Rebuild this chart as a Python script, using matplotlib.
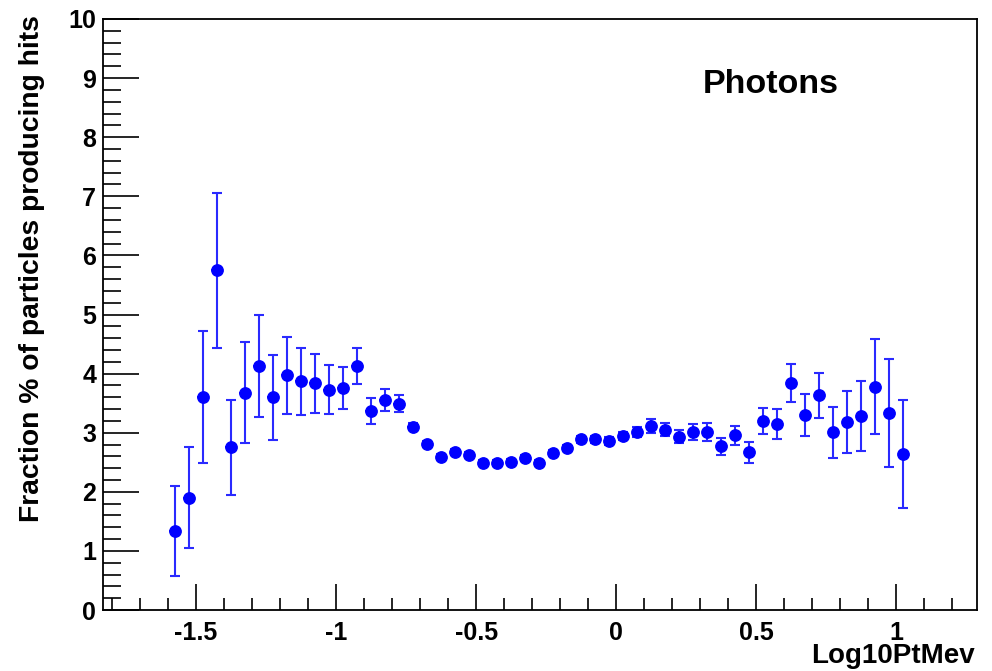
import numpy as np
import matplotlib
matplotlib.use("Agg")
import matplotlib.pyplot as plt
from matplotlib.ticker import MultipleLocator

plt.rcParams['font.family'] = ['Liberation Sans', 'DejaVu Sans']
plt.rcParams['font.weight'] = 'bold'

# bin centres in log10(pt / MeV)
log_pt = [-1.575, -1.525, -1.475, -1.425, -1.375, -1.325, -1.275, -1.225, -1.175, -1.125,
          -1.075, -1.025, -0.975, -0.925, -0.875, -0.825, -0.775, -0.725, -0.675, -0.625,
          -0.575, -0.525, -0.475, -0.425, -0.375, -0.325, -0.275, -0.225, -0.175, -0.125,
          -0.075, -0.025, 0.025, 0.075, 0.125, 0.175, 0.225, 0.275, 0.325, 0.375,
          0.425, 0.475, 0.525, 0.575, 0.625, 0.675, 0.725, 0.775, 0.825, 0.875,
          0.925, 0.975, 1.025]
# fraction (%) of photons producing hits
frac = [1.34, 1.90, 3.60, 5.75, 2.75, 3.68, 4.13, 3.60, 3.97, 3.87,
        3.84, 3.73, 3.76, 4.13, 3.36, 3.55, 3.49, 3.10, 2.81, 2.59,
        2.67, 2.62, 2.49, 2.49, 2.51, 2.57, 2.49, 2.65, 2.74, 2.89,
        2.89, 2.86, 2.94, 3.01, 3.12, 3.05, 2.93, 3.01, 3.01, 2.77,
        2.96, 2.67, 3.20, 3.15, 3.84, 3.30, 3.63, 3.01, 3.18, 3.28,
        3.78, 3.33, 2.64]
frac_err = [0.76, 0.85, 1.12, 1.31, 0.81, 0.85, 0.86, 0.72, 0.65, 0.57,
            0.50, 0.42, 0.36, 0.30, 0.22, 0.19, 0.14, 0.06, 0.05, 0.05,
            0.05, 0.05, 0.05, 0.05, 0.05, 0.05, 0.05, 0.05, 0.05, 0.06,
            0.06, 0.06, 0.07, 0.08, 0.12, 0.11, 0.11, 0.13, 0.15, 0.14,
            0.16, 0.18, 0.22, 0.25, 0.32, 0.35, 0.38, 0.43, 0.53, 0.59,
            0.80, 0.91, 0.92]
half_bin = 0.02

fig = plt.figure(figsize=(9.92, 6.71), dpi=100)
ax = fig.add_axes([103/992, 1 - 610/671, 874/992, 591/671])

# error bars first, markers on top (ROOT E1 style)
ax.errorbar(log_pt, frac, yerr=frac_err, fmt='none', ecolor='#2a2aff',
            elinewidth=1.5, capsize=3.5, capthick=1.5, zorder=2)
ax.errorbar(log_pt, frac, xerr=half_bin, fmt='none', ecolor='#2a2aff',
            elinewidth=1.5, capsize=0, zorder=2)
ax.plot(log_pt, frac, 'o', color='#0000ff', markersize=8.2, zorder=3)

ax.set_xlim(-1.832, 1.288)
ax.set_ylim(0, 10)

ax.xaxis.set_major_locator(MultipleLocator(0.5))
ax.xaxis.set_minor_locator(MultipleLocator(0.1))
ax.yaxis.set_major_locator(MultipleLocator(1))
ax.yaxis.set_minor_locator(MultipleLocator(0.2))
ax.xaxis.set_major_formatter(plt.FuncFormatter(lambda v, p: '%g' % round(v, 2)))

ax.tick_params(axis='x', which='major', direction='in', length=19, width=1.2,
               labelsize=18, pad=8, top=False)
ax.tick_params(axis='x', which='minor', direction='in', length=9, width=1.2, top=False)
ax.tick_params(axis='y', which='major', direction='in', length=26, width=1.2,
               labelsize=18, pad=5, right=False)
ax.tick_params(axis='y', which='minor', direction='in', length=13, width=1.2, right=False)
for lab in ax.get_xticklabels() + ax.get_yticklabels():
    lab.set_fontweight('bold')
for sp in ax.spines.values():
    sp.set_linewidth(1.3)

fig.text(0.032, 1 - 15/671, 'Fraction % of particles producing hits', rotation=90,
         ha='center', va='top', fontsize=20.3, fontweight='bold')
fig.text(975/992, 1 - 663/671, 'Log10PtMev', ha='right', va='baseline',
         fontsize=20, fontweight='bold')
ax.text(0.764, 0.875, 'Photons', transform=ax.transAxes, ha='center', va='baseline',
        fontsize=24.5, fontweight='bold')

fig.savefig('out.png', dpi=100)
